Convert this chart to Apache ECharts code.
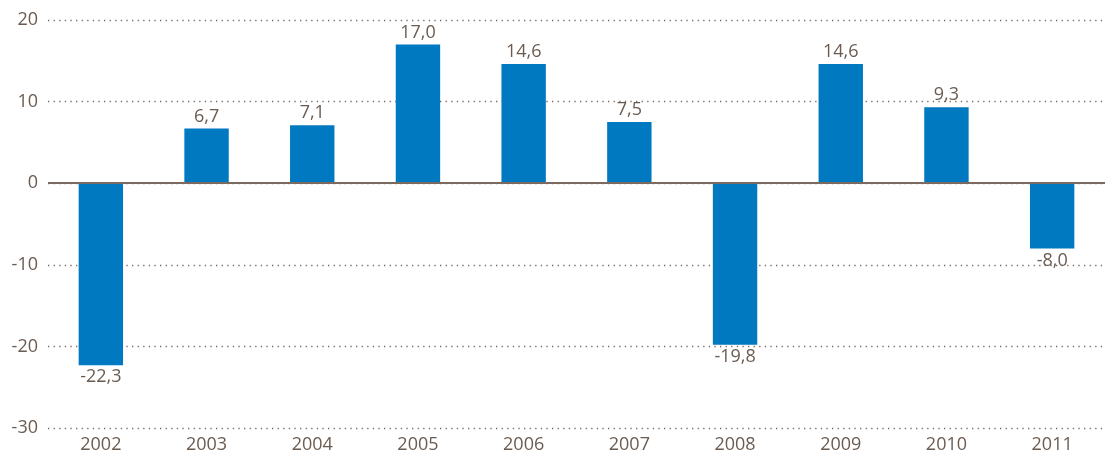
<!DOCTYPE html>
<html>
<head>
<meta charset="utf-8">
<script src="https://cdn.jsdelivr.net/npm/echarts@6/dist/echarts.min.js"></script>
<style>
  html, body { margin: 0; padding: 0; background: #fff; }
  #chart { width: 1105px; height: 460px; }
</style>
</head>
<body>
<div id="chart"></div>
<script>
// years and yearly change values
const years = ['2002', '2003', '2004', '2005', '2006', '2007', '2008', '2009', '2010', '2011'];
const values = [-22.3, 6.7, 7.1, 17.0, 14.6, 7.5, -19.8, 14.6, 9.3, -8.0];
const yTicks = [-30, -20, -10, 0, 10, 20];

const textColor = '#6b5c52';
const barColor = '#0079c1';
const fontFamily = '"Open Sans", "Noto Sans", sans-serif';

const chart = echarts.init(document.getElementById('chart'));

const option = {
  animation: false,
  grid: {
    left: 48,
    right: 0,
    top: 20,
    bottom: 32,
  },
  xAxis: {
    type: 'category',
    data: years,
    position: 'bottom',
    axisLine: { show: false },
    axisTick: { show: false },
    axisLabel: {
      color: textColor,
      fontSize: 18,
      fontFamily: fontFamily,
      margin: 8,
    },
  },
  yAxis: {
    type: 'value',
    min: yTicks[0],
    max: yTicks[yTicks.length - 1],
    interval: 10,
    axisLine: { show: false },
    axisTick: { show: false },
    axisLabel: {
      color: textColor,
      fontSize: 18,
      fontFamily: fontFamily,
      margin: 10,
    },
    splitLine: {
      show: true,
      lineStyle: {
        color: '#7a6a60',
        width: 1.3,
        type: [1.3, 4.3],
      },
    },
  },
  series: [
    {
      type: 'bar',
      data: values.map(v => ({
        value: v,
        label: { position: v < 0 ? 'bottom' : 'top' },
      })),
      barWidth: '42%',
      itemStyle: { color: barColor },
      label: {
        show: true,
        color: textColor,
        fontSize: 18,
        fontFamily: fontFamily,
        distance: 3,
        formatter: (p) => p.value.toFixed(1).replace('.', ','),
      },
      markLine: {
        silent: true,
        symbol: ['none', 'none'],
        label: { show: false },
        lineStyle: { color: '#7a6a60', width: 2, type: 'solid' },
        data: [{ yAxis: 0 }],
        z: 5,
      },
    },
  ],
};

chart.setOption(option);
</script>
</body>
</html>
